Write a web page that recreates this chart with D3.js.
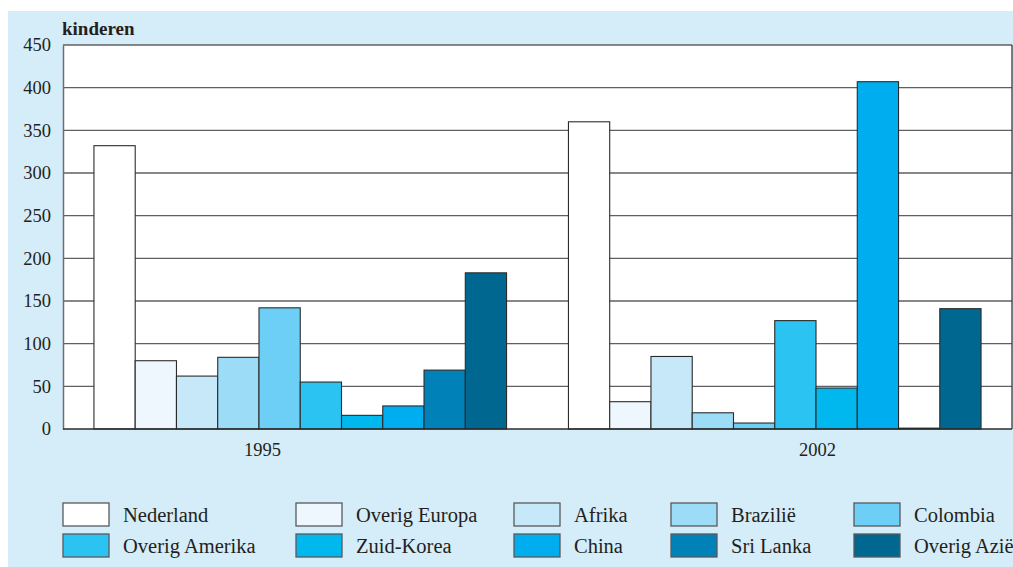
<!DOCTYPE html>
<html>
<head>
<meta charset="utf-8">
<script src="https://cdn.jsdelivr.net/npm/d3@7"></script>
<style>
	body{margin:0;background:#fff;}
	svg{display:block;}
	text{font-family:"Liberation Serif","Times New Roman",serif;fill:#231f20;}
</style>
</head>
<body>
<svg width="1013" height="567"></svg>
<script>
// data
var years = ["1995", "2002"];
var countries = ["Nederland", "Overig Europa", "Afrika", "Brazilië", "Colombia",
	"Overig Amerika", "Zuid-Korea", "China", "Sri Lanka", "Overig Azië"];
var values1995 = [332, 80, 62, 84, 142, 55, 16, 27, 69, 183];
var values2002 = [360, 32, 85, 19, 7, 127, 48, 407, 1, 141];
var yTicks = [0, 50, 100, 150, 200, 250, 300, 350, 400, 450];
var colors = ["#ffffff", "#eef7fd", "#c6e8f8", "#9ddcf7", "#6dcff6",
	"#2bc3f1", "#00b8ee", "#00aeef", "#0081b8", "#006890"];

window.onload=function(){
	var svg = d3.select("svg");
	var margin = {top: 45, right: 1, bottom: 138, left: 63};
	var width = 1013 - margin.left - margin.right;
	var height = 567 - margin.top - margin.bottom;

	var rows = years.map(function(y, i){
		var vals = i == 0 ? values1995 : values2002;
		return {year: y, bars: countries.map(function(c, j){ return {country: c, value: vals[j]}; })};
	});

	//scale
	var x0 = d3.scaleBand().domain(years).range([0, width]);
	var x1 = d3.scaleBand().domain(countries).range([0, x0.bandwidth()]).paddingOuter(0.75);
	var xLabel = d3.scalePoint().domain(years).range([199.5, 754.5]);
	var y = d3.scaleLinear().domain([0, 450]).range([height, 0]);
	var color = d3.scaleOrdinal().domain(countries).range(colors);

	//background
	svg.append("rect")
		.attr("x", 8).attr("y", 11)
		.attr("width", 1013 - 8).attr("height", 567 - 11)
		.attr("fill", "#d5ecf9");

	var g = svg.append("g").attr("transform", "translate(" + margin.left + "," + margin.top + ")");

	g.append("rect")
		.attr("width", width).attr("height", height)
		.attr("fill", "#fff");

	//grid
	g.append("g")
		.selectAll("line")
		.data(yTicks.filter(function(d){ return d > 0; }))
		.enter().append("line")
			.attr("x1", 0).attr("x2", width)
			.attr("y1", function(d){ return y(d); })
			.attr("y2", function(d){ return y(d); })
			.attr("stroke", "#5f6063")
			.attr("stroke-width", 1.4);

	g.append("line")
		.attr("x1", width).attr("x2", width)
		.attr("y1", 0).attr("y2", height)
		.attr("stroke", "#3a3a3a").attr("stroke-width", 1.3);

	//bars
	g.append("g")
		.selectAll("g")
		.data(rows)
		.enter().append("g")
			.attr("transform", function(d){ return "translate(" + x0(d.year) + ",0)"; })
		.selectAll("rect")
		.data(function(d){ return d.bars; })
		.enter().append("rect")
			.attr("x", function(d){ return x1(d.country); })
			.attr("y", function(d){ return y(d.value); })
			.attr("width", x1.bandwidth())
			.attr("height", function(d){ return height - y(d.value); })
			.attr("fill", function(d){ return color(d.country); })
			.attr("stroke", "#2b2b2b")
			.attr("stroke-width", 1.1);

	//axes
	var yAxis = g.append("g")
		.call(d3.axisLeft(y).tickValues(yTicks).tickSize(0).tickPadding(12));
	yAxis.select(".domain").attr("stroke", "#6d6e71").attr("stroke-width", 1.5);
	yAxis.selectAll("text")
		.style("font-family", "Liberation Serif")
		.style("font-size", "18.5px")
		.attr("fill", "#231f20");

	g.append("line")
		.attr("x1", 0).attr("x2", width)
		.attr("y1", height).attr("y2", height)
		.attr("stroke", "#2b2b2b").attr("stroke-width", 1.5);

	g.append("g")
		.selectAll("text")
		.data(years)
		.enter().append("text")
			.attr("x", function(d){ return xLabel(d); })
			.attr("y", height + 27)
			.attr("text-anchor", "middle")
			.style("font-size", "18.5px")
			.text(function(d){ return d; });

	g.append("text")
		.attr("x", -1).attr("y", -10)
		.style("font-size", "19px")
		.style("font-weight", "bold")
		.text("kinderen");

	//legend
	var legCols = [63, 296, 514, 671, 854];
	var legRows = [503, 534];
	var leg = svg.append("g")
		.selectAll("g")
		.data(countries)
		.enter().append("g")
			.attr("transform", function(d, i){
				return "translate(" + legCols[i % 5] + "," + legRows[Math.floor(i / 5)] + ")"; });
	leg.append("rect")
		.attr("width", 46).attr("height", 23)
		.attr("fill", function(d){ return color(d); })
		.attr("stroke", "#58595b")
		.attr("stroke-width", 1.3);
	leg.append("text")
		.attr("x", 60).attr("y", 19)
		.style("font-size", "20.5px")
		.text(function(d){ return d; });
}
</script>
</body>
</html>
